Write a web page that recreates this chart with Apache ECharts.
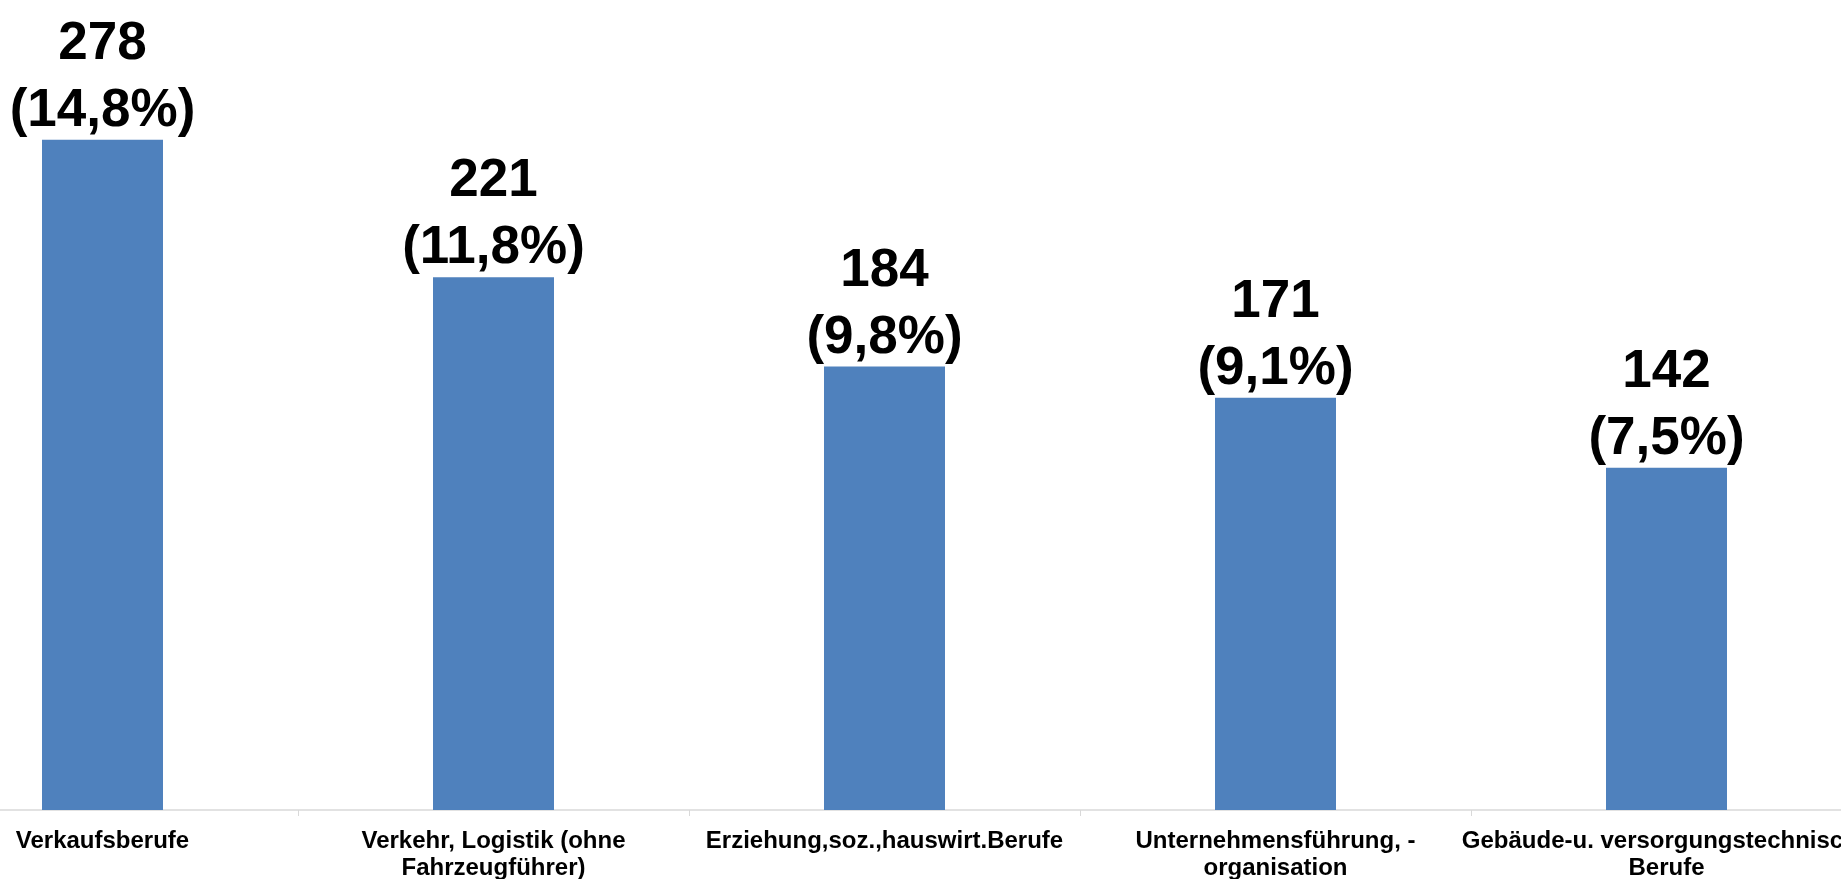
<!DOCTYPE html>
<html>
<head>
<meta charset="utf-8">
<script src="https://cdn.jsdelivr.net/npm/echarts@6/dist/echarts.min.js"></script>
<style>
html,body{margin:0;padding:0;background:#fff;}
#chart{width:1841px;height:879px;}
</style>
</head>
<body>
<div id="chart"></div>
<script>
const categories = [
  "Verkaufsberufe",
  "Verkehr, Logistik (ohne\nFahrzeugführer)",
  "Erziehung,soz.,hauswirt.Berufe",
  "Unternehmensführung, -\norganisation",
  "Gebäude-u. versorgungstechnische\nBerufe"
];
const values = [278, 221, 184, 171, 142];
const percents = ["14,8%", "11,8%", "9,8%", "9,1%", "7,5%"];

const chart = echarts.init(document.getElementById('chart'));
chart.setOption({
  animation: false,
  backgroundColor: '#ffffff',
  grid: { left: -93, right: -21, top: 0, bottom: 69, containLabel: false, outerBoundsMode: 'none' },
  xAxis: {
    type: 'category',
    data: categories,
    axisLine: { show: true, lineStyle: { color: '#d9d9d9', width: 1.5 } },
    axisTick: { show: true, length: 6, lineStyle: { color: '#d9d9d9' } },
    axisLabel: {
      interval: 0,
      color: '#000',
      fontFamily: 'Liberation Sans, Arial, sans-serif',
      fontWeight: 'bold',
      fontSize: 24,
      lineHeight: 27,
      margin: 18
    }
  },
  yAxis: {
    type: 'value',
    min: 0,
    max: 336,
    show: false,
    splitLine: { show: false }
  },
  series: [{
    type: 'bar',
    data: values,
    barWidth: 121,
    itemStyle: { color: '#4f81bd' },
    label: {
      show: true,
      position: 'top',
      distance: -5,
      color: '#000',
      fontFamily: 'Liberation Sans, Arial, sans-serif',
      fontWeight: 'bold',
      fontSize: 53,
      lineHeight: 67,
      formatter: p => values[p.dataIndex] + '\n(' + percents[p.dataIndex] + ')'
    }
  }]
});
</script>
</body>
</html>
